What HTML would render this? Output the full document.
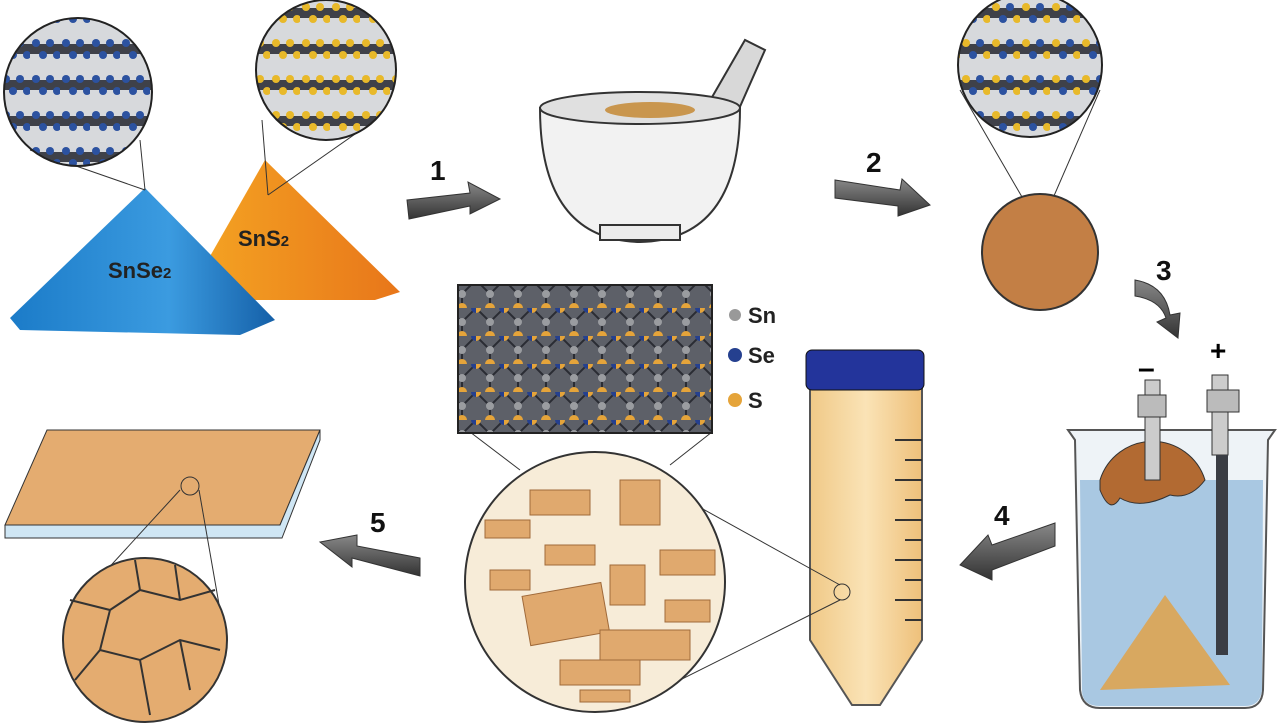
<!DOCTYPE html>
<html><head><meta charset="utf-8"><style>
html,body{margin:0;padding:0;background:#fff;}
svg{display:block;font-family:"Liberation Sans",sans-serif;}
</style></head><body>
<svg width="1280" height="723" viewBox="0 0 1280 723" xmlns="http://www.w3.org/2000/svg">
<defs>
<linearGradient id="arr" x1="0" y1="0" x2="0" y2="1"><stop offset="0" stop-color="#888"/><stop offset="1" stop-color="#333"/></linearGradient>
<linearGradient id="blue" x1="0" y1="0" x2="1" y2="0"><stop offset="0" stop-color="#1b7bc8"/><stop offset="0.6" stop-color="#3b9be0"/><stop offset="1" stop-color="#1560a8"/></linearGradient>
<linearGradient id="orng" x1="0" y1="0" x2="1" y2="0"><stop offset="0" stop-color="#f5a623"/><stop offset="1" stop-color="#e8761a"/></linearGradient>
<linearGradient id="tube" x1="0" y1="0" x2="1" y2="0"><stop offset="0" stop-color="#f0c987"/><stop offset="0.5" stop-color="#fae3b6"/><stop offset="1" stop-color="#eec07a"/></linearGradient>
<pattern id="lat" width="28" height="28" patternUnits="userSpaceOnUse">
<rect width="28" height="28" fill="#5d6068"/>
<path d="M0 0L14 14L28 0M14 14V28" stroke="#2a2c33" stroke-width="2" fill="none"/>
<circle cx="14" cy="14" r="4" fill="#9a9ca0"/><circle cx="0" cy="0" r="5" fill="#e5a43a"/><circle cx="28" cy="0" r="5" fill="#25408f"/><circle cx="14" cy="28" r="5" fill="#e5a43a"/>
</pattern>
<pattern id="layers" width="30" height="36" patternUnits="userSpaceOnUse">
<rect width="30" height="36" fill="#d7d9dc"/>
<rect y="8" width="30" height="10" fill="#3f4149"/>
<circle cx="6" cy="7" r="4" fill="#2c52a0"/><circle cx="20" cy="7" r="4" fill="#2c52a0"/><circle cx="13" cy="19" r="4" fill="#2c52a0"/><circle cx="27" cy="19" r="4" fill="#2c52a0"/>
</pattern>
<pattern id="layers2" width="30" height="36" patternUnits="userSpaceOnUse">
<rect width="30" height="36" fill="#d7d9dc"/>
<rect y="8" width="30" height="10" fill="#3f4149"/>
<circle cx="6" cy="7" r="4" fill="#e8b92a"/><circle cx="20" cy="7" r="4" fill="#e8b92a"/><circle cx="13" cy="19" r="4" fill="#e8b92a"/><circle cx="27" cy="19" r="4" fill="#e8b92a"/>
</pattern>
<pattern id="layers3" width="30" height="36" patternUnits="userSpaceOnUse">
<rect width="30" height="36" fill="#d7d9dc"/>
<rect y="8" width="30" height="10" fill="#3f4149"/>
<circle cx="6" cy="7" r="4" fill="#e8b92a"/><circle cx="20" cy="7" r="4" fill="#2c52a0"/><circle cx="13" cy="19" r="4" fill="#2c52a0"/><circle cx="27" cy="19" r="4" fill="#e8b92a"/>
</pattern>
</defs>

<!-- piles -->
<polygon points="265,160 400,292 375,300 185,300" fill="url(#orng)"/>
<polygon points="145,188 275,320 240,335 20,330 10,318" fill="url(#blue)"/>
<text x="238" y="246" font-size="22" font-weight="bold" fill="#222">SnS<tspan font-size="15">2</tspan></text>
<text x="108" y="278" font-size="22" font-weight="bold" fill="#222">SnSe<tspan font-size="15">2</tspan></text>
<line x1="30" y1="150" x2="145" y2="190" stroke="#333"/><line x1="140" y1="140" x2="145" y2="190" stroke="#333"/>
<line x1="262" y1="120" x2="268" y2="195" stroke="#333"/><line x1="368" y1="125" x2="268" y2="195" stroke="#333"/>
<circle cx="78" cy="92" r="74" fill="url(#layers)" stroke="#222" stroke-width="2"/>
<circle cx="326" cy="70" r="70" fill="url(#layers2)" stroke="#222" stroke-width="2"/>

<!-- arrows -->
<g fill="url(#arr)" stroke="#333" stroke-width="1">
<polygon points="407,200 470,193 468,182 500,199 470,214 470,206 409,219"/>
<polygon points="835,180 900,190 902,179 930,205 898,216 898,206 835,198"/>
<path d="M1135 280 Q1165 285 1170 315 L1180 313 L1178 338 L1157 322 L1166 318 Q1160 300 1135 296 Z"/>
<polygon points="1055,523 992,545 988,535 960,565 992,580 992,570 1055,546"/>
<polygon points="420,558 357,546 357,535 320,542 352,567 352,558 420,576"/>
</g>
<g font-size="28" font-weight="bold" fill="#111">
<text x="430" y="180">1</text><text x="866" y="172">2</text><text x="1156" y="280">3</text><text x="994" y="525">4</text><text x="370" y="532">5</text>
</g>

<!-- mortar -->
<polygon points="700,118 745,40 765,50 735,118" fill="#d8d8d8" stroke="#333" stroke-width="2"/>
<path d="M540 108 Q540 240 640 242 Q740 240 740 108 Z" fill="#f2f2f2" stroke="#333" stroke-width="2"/>
<ellipse cx="640" cy="108" rx="100" ry="16" fill="#e0e0e0" stroke="#333" stroke-width="2"/>
<ellipse cx="650" cy="110" rx="45" ry="8" fill="#c9964e"/>
<rect x="600" y="225" width="80" height="15" fill="#ececec" stroke="#333" stroke-width="2"/>

<!-- top right -->
<line x1="960" y1="90" x2="1040" y2="228" stroke="#333"/><line x1="1100" y1="90" x2="1040" y2="228" stroke="#333"/>
<circle cx="1040" cy="252" r="58" fill="#c37f45" stroke="#333" stroke-width="2"/>
<circle cx="1030" cy="65" r="72" fill="url(#layers3)" stroke="#222" stroke-width="2"/>

<!-- beaker -->
<path d="M1068 430 L1075 440 L1080 690 Q1082 708 1100 708 L1245 708 Q1262 708 1263 690 L1268 440 L1275 430 Z" fill="#eef3f7" stroke="#555" stroke-width="2"/>
<path d="M1080 480 L1263 480 L1262 690 Q1260 706 1245 706 L1100 706 Q1082 706 1082 690 Z" fill="#a9c8e2"/>
<path d="M1100 480 A55 55 0 0 1 1205 480 Q1190 500 1170 495 Q1140 510 1120 498 Q1110 515 1100 490 Z" fill="#b26a32" stroke="#333"/>
<polygon points="1165,595 1230,685 1100,690" fill="#d8a860"/>
<text x="1138" y="378" font-size="30" font-weight="bold">–</text>
<text x="1210" y="360" font-size="28" font-weight="bold">+</text>
<rect x="1145" y="380" width="15" height="100" fill="#ccc" stroke="#333"/>
<rect x="1138" y="395" width="28" height="22" fill="#bbb" stroke="#333"/>
<rect x="1212" y="375" width="16" height="80" fill="#ccc" stroke="#333"/>
<rect x="1207" y="390" width="32" height="22" fill="#bbb" stroke="#333"/>
<rect x="1216" y="455" width="12" height="200" fill="#3a3d44"/>

<!-- tube -->
<path d="M810 388 L922 388 L922 640 L880 705 L852 705 L810 640 Z" fill="url(#tube)" stroke="#555" stroke-width="2"/>
<rect x="806" y="350" width="118" height="40" rx="6" fill="#23349b" stroke="#111"/>
<g stroke="#333" stroke-width="2">
<line x1="895" y1="440" x2="922" y2="440"/><line x1="905" y1="460" x2="922" y2="460"/><line x1="895" y1="480" x2="922" y2="480"/><line x1="905" y1="500" x2="922" y2="500"/><line x1="895" y1="520" x2="922" y2="520"/><line x1="905" y1="540" x2="922" y2="540"/><line x1="895" y1="560" x2="922" y2="560"/><line x1="905" y1="580" x2="922" y2="580"/><line x1="895" y1="600" x2="922" y2="600"/><line x1="905" y1="620" x2="922" y2="620"/>
</g>
<circle cx="842" cy="592" r="8" fill="none" stroke="#333"/>

<!-- big circle -->
<line x1="600" y1="452" x2="840" y2="585" stroke="#333"/><line x1="640" y1="700" x2="840" y2="600" stroke="#333"/>
<line x1="470" y1="432" x2="520" y2="470" stroke="#333"/><line x1="712" y1="432" x2="670" y2="465" stroke="#333"/>
<circle cx="595" cy="582" r="130" fill="#f7ecd8" stroke="#333" stroke-width="2"/>
<g fill="#e0a96e" stroke="#a06a3a">
<rect x="530" y="490" width="60" height="25"/><rect x="620" y="480" width="40" height="45"/><rect x="490" y="570" width="40" height="20"/>
<rect x="525" y="590" width="80" height="50" transform="rotate(-10 560 610)"/><rect x="610" y="565" width="35" height="40"/><rect x="600" y="630" width="90" height="30"/><rect x="560" y="660" width="80" height="25"/><rect x="660" y="550" width="55" height="25"/>
<rect x="485" y="520" width="45" height="18"/><rect x="665" y="600" width="45" height="22"/><rect x="545" y="545" width="50" height="20"/><rect x="580" y="690" width="50" height="12"/>
</g>
<rect x="458" y="285" width="254" height="148" fill="url(#lat)" stroke="#222" stroke-width="2"/>
<circle cx="735" cy="315" r="6" fill="#999"/><circle cx="735" cy="355" r="7" fill="#25408f"/><circle cx="735" cy="400" r="7" fill="#e5a43a"/>
<g font-size="22" font-weight="bold" fill="#222"><text x="748" y="323">Sn</text><text x="748" y="363">Se</text><text x="748" y="408">S</text></g>

<!-- plate -->
<polygon points="5,525 47,430 320,430 280,525" fill="#e4ac70" stroke="#333"/>
<polygon points="5,525 280,525 320,430 320,440 282,538 5,538" fill="#cfe6f4" stroke="#333"/>
<circle cx="190" cy="486" r="9" fill="none" stroke="#333"/>
<line x1="180" y1="490" x2="70" y2="610" stroke="#333"/><line x1="199" y1="490" x2="220" y2="610" stroke="#333"/>
<circle cx="145" cy="640" r="82" fill="#e4ac70" stroke="#333" stroke-width="2"/>
<path d="M70 600 L110 610 L140 590 L180 600 L215 590 M110 610 L100 650 L140 660 L180 640 L220 650 M100 650 L75 680 M140 660 L150 715 M180 640 L190 690 M140 590 L135 560 M180 600 L175 565" stroke="#333" stroke-width="2" fill="none"/>
</svg>
</body></html>
